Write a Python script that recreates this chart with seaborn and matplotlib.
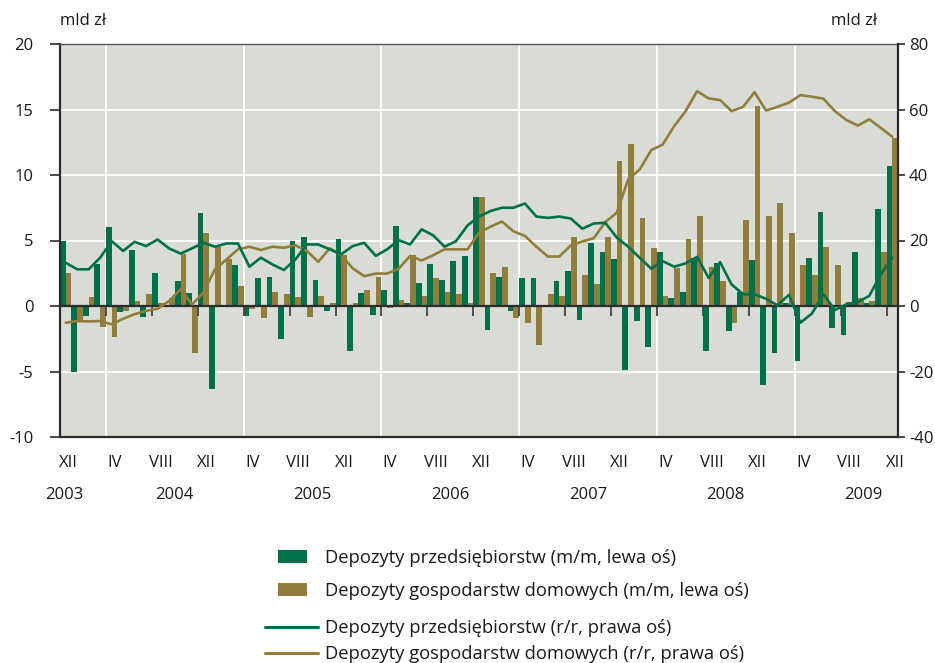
import numpy as np
import pandas as pd
import matplotlib
matplotlib.use("Agg")
import matplotlib.pyplot as plt
import matplotlib.transforms as mtransforms
from matplotlib.patches import Patch
from matplotlib.lines import Line2D
import seaborn as sns

# ---------------- data ----------------
months = list(pd.period_range("2003-12", "2009-12", freq="M").astype(str))  # 73 months

ent_mm = [5.0, -5.0, -0.8, 3.2, 6.0, -0.45, 4.3, -0.85, 2.5, 0.1, 1.9, 1.0,
          7.1, -6.3, 0.1, 3.1, -0.75, 2.1, 2.25, -2.5, 5.0, 5.25, 1.95, -0.4,
          5.1, -3.4, 1.0, -0.7, 1.2, 6.1, 0.2, 1.75, 3.2, 1.95, 3.4, 3.8,
          8.3, -1.85, 2.2, -0.4, 2.1, 2.1, 0.0, 1.9, 2.65, -1.05, 4.8, 4.1,
          3.55, -4.9, -1.15, -3.1, 4.15, 0.6, 1.05, 3.7, -3.4, 3.25, -1.9, 1.1,
          3.5, -6.05, -3.55, 0.2, -4.2, 3.7, 7.2, -1.7, -2.2, 4.1, 0.2, 7.4,
          10.65]
hh_mm = [2.5, -1.1, 0.7, -1.6, -2.4, -0.4, 0.35, 0.95, 0.2, 0.6, 4.0, -3.6,
         5.6, 4.5, 3.55, 1.5, -0.2, -0.9, 1.1, 0.9, 0.7, -0.85, 0.8, 0.2,
         3.9, 0.25, 1.2, 2.2, -0.15, 0.45, 3.9, 0.75, 2.1, 1.05, 0.95, 0.25,
         8.3, 2.5, 3.0, -0.9, -1.3, -3.0, 0.95, 0.8, 5.3, 2.4, 1.65, 5.3,
         11.05, 12.4, 6.75, 4.4, 0.75, 2.9, 5.15, 6.9, 3.0, 1.9, -1.3, 6.6,
         15.3, 6.9, 7.9, 5.55, 3.1, 2.4, 4.5, 3.1, 0.3, 0.6, 0.35, 4.1,
         12.8]
ent_yy = [13.2, 11.2, 11.2, 14.75, 19.8, 16.8, 19.6, 18.3, 20.3, 17.6, 16.0, 17.6,
          19.3, 18.1, 19.1, 19.1, 12.0, 14.75, 12.7, 11.0, 14.2, 18.8, 18.8, 17.3,
          15.8, 18.3, 19.3, 15.3, 17.3, 20.1, 18.8, 23.4, 21.6, 18.1, 19.8, 24.6,
          27.3, 29.0, 30.0, 30.0, 31.3, 27.3, 26.9, 27.3, 26.7, 23.6, 25.2, 25.4,
          20.9, 18.1, 14.75, 11.4, 13.7, 12.0, 13.0, 15.0, 8.6, 13.4, 6.6, 3.6,
          3.6, 2.2, 0.2, 3.4, -5.1, -2.3, 3.6, -1.2, 0.5, 1.2, 3.1, 9.7,
          14.75]
hh_yy = [-5.1, -4.6, -4.7, -4.6, -5.6, -3.9, -2.5, -1.5, -0.8, 1.5, 5.1, 0.5,
         4.1, 11.2, 14.2, 17.3, 18.1, 17.1, 18.1, 17.8, 18.5, 16.8, 13.5, 17.6,
         15.5, 11.5, 9.1, 9.9, 9.9, 11.4, 15.3, 13.9, 15.5, 17.3, 17.3, 17.3,
         22.4, 24.2, 25.8, 22.8, 21.4, 18.1, 15.1, 15.1, 18.5, 19.7, 20.7, 25.6,
         28.5, 38.7, 41.7, 47.6, 49.3, 54.9, 59.5, 65.6, 63.4, 62.9, 59.5, 60.8,
         65.3, 59.7, 60.8, 62.1, 64.4, 63.9, 63.3, 59.5, 56.8, 55.1, 57.0, 54.4,
         51.7]

tick_labels = ["XII", "IV", "VIII", "XII", "IV", "VIII", "XII", "IV", "VIII", "XII",
               "IV", "VIII", "XII", "IV", "VIII", "XII", "IV", "VIII", "XII"]
years = ["2003", "2004", "2005", "2006", "2007", "2008", "2009"]

lab_ent_mm = "Depozyty przedsiębiorstw (m/m, lewa oś)"
lab_hh_mm = "Depozyty gospodarstw domowych (m/m, lewa oś)"
lab_ent_yy = "Depozyty przedsiębiorstw (r/r, prawa oś)"
lab_hh_yy = "Depozyty gospodarstw domowych (r/r, prawa oś)"

# ---------------- style ----------------
GREEN = "#00704a"
GOLD = "#927e3c"
BG = "#d8dcd5"
DARK = "#2b2b2b"
TXT = "#1a1a1a"

sns.set_style("white")
plt.rcParams["font.family"] = ["Open Sans", "DejaVu Sans"]
plt.rcParams["axes.unicode_minus"] = False
FS = 12
LFS = 13.2

fig = plt.figure(figsize=(9.35, 6.63), dpi=100)
W, H = 935, 663
ax = fig.add_axes([60 / W, 1 - 437 / H, 838 / W, 393 / H])
ax.set_facecolor(BG)

n = len(months)
df = pd.DataFrame({
    "month": months * 2,
    "value": ent_mm + hh_mm,
    "series": [lab_ent_mm] * n + [lab_hh_mm] * n,
})
sns.barplot(data=df, x="month", y="value", hue="series",
            hue_order=[lab_ent_mm, lab_hh_mm], palette=[GREEN, GOLD],
            order=months, width=1.0, gap=0, dodge=True, saturation=1,
            linewidth=0, legend=False, ax=ax, zorder=2)

ax.set_xlim(-0.5, n - 0.5)
ax.set_ylim(-10, 20)
ax.set_yticks(range(-10, 21, 5))
ax.set_xlabel("")
ax.set_ylabel("")

# month labels (every 4 months) on bottom, no tick marks
idx = np.arange(0, n, 4)
ax.set_xticks(idx + 0.25)
ax.set_xticklabels(tick_labels, fontsize=FS, color=TXT)
ax.tick_params(axis="x", which="major", length=0, pad=13)
# vertical white grid lines at IV boundaries
ax.set_xticks(np.arange(4, n, 12) - 0.5, minor=True)
ax.tick_params(axis="x", which="minor", length=0)
ax.grid(axis="x", which="minor", color="white", lw=1.3, zorder=0)
ax.grid(axis="y", which="major", color="white", lw=1.3, zorder=0)
ax.grid(axis="x", which="major", visible=False)
ax.set_axisbelow(True)

ax.tick_params(axis="y", direction="out", length=7, width=1.2, color=DARK,
               labelsize=FS, labelcolor=TXT, pad=12, left=True)
for s in ["left", "bottom"]:
    ax.spines[s].set_color(DARK)
    ax.spines[s].set_linewidth(1.6)
ax.spines["top"].set_color("#555555")
ax.spines["top"].set_linewidth(1.0)
ax.spines["right"].set_visible(False)

# zero line with small tick marks every 4 months
sec = ax.secondary_xaxis(1 / 3)
sec.set_xticks(np.arange(4, n, 4) - 0.5)
sec.set_xticklabels([])
sec.tick_params(axis="x", direction="out", length=7, width=1.3, color="#444444")
sec.spines["bottom"].set_color(DARK)
sec.spines["bottom"].set_linewidth(1.6)
sec.set_zorder(5)

# year labels
trans = mtransforms.blended_transform_factory(ax.transData, fig.transFigure)
year_pos = [-0.1] + [9.5 + 12 * k for k in range(len(years) - 1)]
for yp, yl in zip(year_pos, years):
    fig.text(yp, 1 - 495 / H, yl, transform=trans, ha="center", va="center",
             fontsize=FS, color=TXT)

# right axis with lines
ax2 = ax.twinx()
x = np.arange(n)
sns.lineplot(x=x, y=hh_yy, ax=ax2, color=GOLD, lw=1.9, zorder=3)
sns.lineplot(x=x, y=ent_yy, ax=ax2, color=GREEN, lw=1.9, zorder=4)
ax2.set_ylim(-40, 80)
ax2.set_yticks(range(-40, 81, 20))
ax2.set_xlim(-0.5, n - 0.5)
ax2.set_ylabel("")
ax2.tick_params(axis="y", direction="out", length=5, width=1.2, color=DARK,
                labelsize=FS, labelcolor=TXT, pad=3, right=True)
for s in ["left", "top", "bottom"]:
    ax2.spines[s].set_visible(False)
ax2.spines["right"].set_color(DARK)
ax2.spines["right"].set_linewidth(1.6)
ax.set_xlim(-0.5, n - 0.5)

# unit labels
fig.text(83 / W, 1 - 21 / H, "mld zł", ha="center", va="center", fontsize=FS, color=TXT)
fig.text(854 / W, 1 - 21 / H, "mld zł", ha="center", va="center", fontsize=FS, color=TXT)

# legends
fpx = LFS * 100 / 72
bar_handles = [Patch(facecolor=GREEN, edgecolor="none"),
               Patch(facecolor=GOLD, edgecolor="none")]
leg1 = fig.legend(bar_handles, [lab_ent_mm, lab_hh_mm], loc="upper left",
                  bbox_to_anchor=(278 / W, 1 - 549 / H), frameon=False,
                  fontsize=LFS, handlelength=29 / fpx, handleheight=13 / fpx,
                  handletextpad=18 / fpx, labelspacing=0.82, borderpad=0,
                  borderaxespad=0, labelcolor=TXT)
line_handles = [Line2D([], [], color=GREEN, lw=2.2),
                Line2D([], [], color=GOLD, lw=2.2)]
leg2 = fig.legend(line_handles, [lab_ent_yy, lab_hh_yy], loc="upper left",
                  bbox_to_anchor=(265 / W, 1 - 619 / H), frameon=False,
                  fontsize=LFS, handlelength=53 / fpx, handletextpad=7 / fpx,
                  labelspacing=0.45, borderpad=0, borderaxespad=0,
                  labelcolor=TXT)

fig.savefig("out.png", dpi=100, facecolor="white")
